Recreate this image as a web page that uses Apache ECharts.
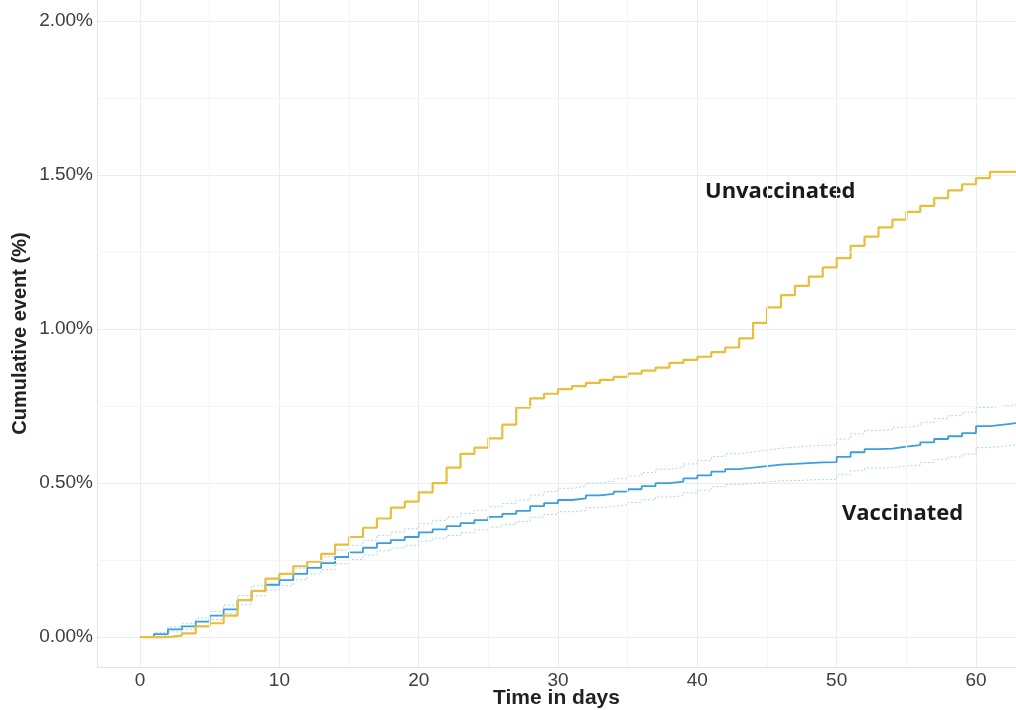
<!DOCTYPE html>
<html>
<head>
<meta charset="utf-8">
<script src="https://cdn.jsdelivr.net/npm/echarts@6/dist/echarts.min.js"></script>
<style>
html,body{margin:0;padding:0;background:#fff;}
#chart{width:1016px;height:710px;}
</style>
</head>
<body>
<div id="chart"></div>
<script>
// Days (event times) shared by all step curves
var days = [0,1,2,3,4,5,6,7,8,9,10,11,12,13,14,15,16,17,18,19,20,21,22,23,24,25,26,27,28,29,30,31,32,33,34,35,36,37,38,39,40,41,42,43,44,45,46,47,48,49,50,51,52,53,54,55,56,57,58,59,60,61,62,63];

// Cumulative event (%) — Unvaccinated
var unvaccinated = [0,0,0.005,0.012,0.035,0.045,0.07,0.12,0.15,0.19,0.205,0.23,0.245,0.27,0.3,0.325,0.355,0.385,0.42,0.44,0.47,0.5,0.55,0.595,0.615,0.645,0.69,0.745,0.775,0.79,0.805,0.815,0.825,0.835,0.845,0.855,0.865,0.875,0.89,0.9,0.91,0.925,0.94,0.97,1.02,1.07,1.11,1.14,1.17,1.2,1.23,1.27,1.3,1.33,1.355,1.38,1.4,1.425,1.45,1.47,1.49,1.51,1.51,1.51];

// Cumulative event (%) — Vaccinated, with confidence band
var vaccinated = [0,0.01,0.025,0.035,0.05,0.07,0.09,0.12,0.15,0.17,0.185,0.205,0.225,0.24,0.26,0.275,0.29,0.305,0.315,0.325,0.34,0.35,0.36,0.37,0.38,0.39,0.4,0.41,0.425,0.435,0.445,0.45,0.46,0.465,0.472,0.48,0.49,0.5,0.505,0.515,0.525,0.537,0.545,0.55,0.555,0.56,0.562,0.565,0.567,0.568,0.585,0.6,0.61,0.612,0.618,0.623,0.632,0.643,0.652,0.662,0.685,0.69,0.695,0.695];
var vaccinatedUpper = [0,0.015,0.033,0.045,0.062,0.083,0.104,0.135,0.166,0.187,0.203,0.224,0.245,0.261,0.282,0.298,0.314,0.33,0.341,0.352,0.368,0.379,0.39,0.401,0.412,0.423,0.434,0.445,0.461,0.472,0.483,0.489,0.5,0.506,0.514,0.523,0.534,0.545,0.551,0.562,0.573,0.586,0.595,0.601,0.607,0.613,0.616,0.62,0.622,0.624,0.643,0.66,0.671,0.674,0.681,0.687,0.697,0.709,0.719,0.73,0.745,0.75,0.755,0.755];
var vaccinatedLower = [0,0.005,0.017,0.025,0.038,0.057,0.076,0.105,0.134,0.153,0.167,0.186,0.205,0.219,0.238,0.252,0.266,0.28,0.289,0.298,0.312,0.321,0.33,0.339,0.348,0.357,0.366,0.375,0.389,0.398,0.407,0.411,0.42,0.424,0.43,0.437,0.446,0.455,0.459,0.468,0.477,0.488,0.495,0.499,0.503,0.507,0.508,0.51,0.512,0.512,0.527,0.54,0.549,0.55,0.555,0.559,0.567,0.577,0.585,0.594,0.615,0.62,0.625,0.625];

// Tick labels
var xTicks = [0,10,20,30,40,50,60];
var xMinor = [5,15,25,35,45,55];
var yTicks = [0,0.5,1,1.5,2];
var yMinor = [0.25,0.75,1.25,1.75];

function pairs(ys){ return days.map(function(d,i){ return [d, ys[i]]; }); }

var chart = echarts.init(document.getElementById('chart'), null, {renderer:'canvas'});
var font = '"Liberation Sans", Arial, sans-serif';

var minorLines = xMinor.map(function(v){ return {xAxis:v}; })
  .concat(yMinor.map(function(v){ return {yAxis:v}; }));

chart.setOption({
  animation:false,
  backgroundColor:'#ffffff',
  grid:{left:97,right:0,top:0,bottom:43,containLabel:false,outerBoundsMode:'none'},
  xAxis:{
    type:'value', min:-3.09, max:62.87,
    name:'Time in days', nameLocation:'middle', nameGap:21, nameMoveOverlap:false,
    nameTextStyle:{fontFamily:font,fontWeight:'bold',fontSize:21,color:'#222'},
    axisLine:{show:true,onZero:false,lineStyle:{color:'#e2e2e2',width:1}},
    axisTick:{show:false,customValues:xTicks},
    axisLabel:{customValues:xTicks,margin:4,fontFamily:font,fontSize:19,color:'#3d3d3d'},
    splitLine:{show:true,lineStyle:{color:'#ececec',width:1}}
  },
  yAxis:{
    type:'value', min:-0.097, max:2.068,
    name:'Cumulative event (%)', nameLocation:'middle', nameGap:67, nameRotate:90, nameMoveOverlap:false,
    nameTextStyle:{fontFamily:font,fontWeight:'bold',fontSize:20,color:'#222'},
    axisLine:{show:true,onZero:false,lineStyle:{color:'#e2e2e2',width:1}},
    axisTick:{show:false,customValues:yTicks},
    axisLabel:{customValues:yTicks,margin:4,fontFamily:font,fontSize:19,color:'#3d3d3d',
      formatter:function(v){ return v.toFixed(2)+'%'; }},
    splitLine:{show:true,lineStyle:{color:'#ececec',width:1}}
  },
  series:[
    {type:'line',name:'grid-minor',data:[],silent:true,
      markLine:{silent:true,symbol:'none',label:{show:false},
        lineStyle:{color:'#f5f5f5',width:1,type:'solid'},data:minorLines}},
    {type:'line',name:'Vaccinated upper',data:pairs(vaccinatedUpper),step:'end',showSymbol:false,
      lineStyle:{color:'#a9d6f2',width:1,type:[2,2]},z:2},
    {type:'line',name:'Vaccinated lower',data:pairs(vaccinatedLower),step:'end',showSymbol:false,
      lineStyle:{color:'#a9d6f2',width:1,type:[2,2]},z:2},
    {type:'line',name:'Vaccinated',data:pairs(vaccinated),step:'end',showSymbol:false,
      lineStyle:{color:'#3a9fdc',width:1.8},z:3},
    {type:'line',name:'Unvaccinated',data:pairs(unvaccinated),step:'end',showSymbol:false,
      lineStyle:{color:'#e8bf3c',width:2.2},z:4}
  ],
  graphic:[
    {type:'text',left:705,top:181,style:{text:'Unvaccinated',font:'bold 22px "Open Sans", sans-serif',fill:'#1a1a1a'}},
    {type:'text',left:842,top:503,style:{text:'Vaccinated',font:'bold 22px "Open Sans", sans-serif',fill:'#1a1a1a'}}
  ]
});
</script>
</body>
</html>
